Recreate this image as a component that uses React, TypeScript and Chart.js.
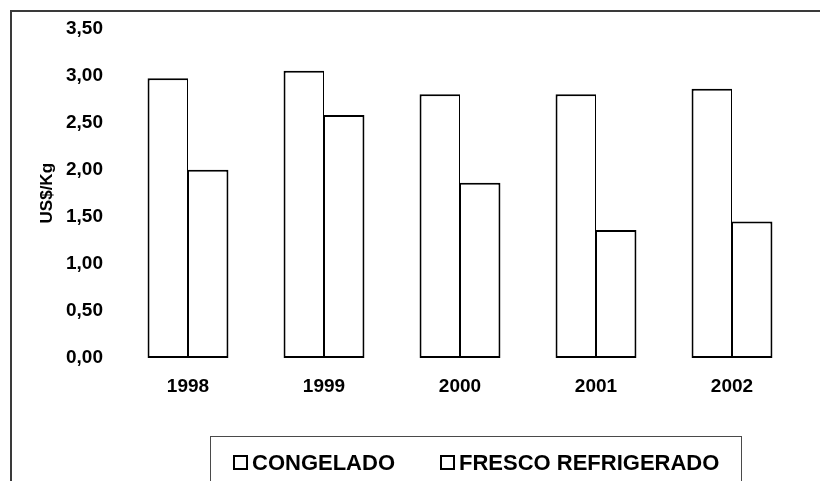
import React, { useEffect, useRef } from "react";
import { Chart, registerables } from "chart.js";

Chart.register(...registerables);

const categories = ["1998", "1999", "2000", "2001", "2002"];
const congelado = [2.97, 3.05, 2.8, 2.8, 2.86];
const frescoRefrigerado = [2.0, 2.58, 1.86, 1.36, 1.45];
const seriesNames = ["CONGELADO", "FRESCO REFRIGERADO"];
const yMin = 0;
const yMax = 3.5;
const yStep = 0.5;
const yAxisTitle = "US$/Kg";

const FONT = "'Liberation Sans', Arial, sans-serif";

const framePlugin = {
  id: "frame",
  beforeDraw(chart: any) {
    const ctx = chart.ctx;
    ctx.save();
    ctx.fillStyle = "#ffffff";
    ctx.fillRect(0, 0, chart.width, chart.height);
    ctx.strokeStyle = "#3a3a3a";
    ctx.lineWidth = 2;
    ctx.beginPath();
    ctx.moveTo(11, chart.height + 5);
    ctx.lineTo(11, 11);
    ctx.lineTo(chart.width + 5, 11);
    ctx.stroke();
    ctx.restore();
  },
  afterDraw(chart: any) {
    const ctx = chart.ctx;
    ctx.save();
    // legend box
    ctx.strokeStyle = "#4a4a4a";
    ctx.lineWidth = 1;
    ctx.strokeRect(210.5, 436.5, 531, 60);
    ctx.font = `bold 22px ${FONT}`;
    ctx.textBaseline = "alphabetic";
    ctx.textAlign = "left";
    const itemX = [233, 440];
    seriesNames.forEach((name, i) => {
      const x = itemX[i];
      ctx.fillStyle = "#ffffff";
      ctx.fillRect(x, 455, 14, 14);
      ctx.strokeStyle = "#000000";
      ctx.lineWidth = 2;
      ctx.strokeRect(x + 1, 456, 13, 13);
      ctx.fillStyle = "#000000";
      ctx.fillText(name, x + 19, 470);
    });
    ctx.restore();
  },
};

export default function App() {
  const ref = useRef<HTMLCanvasElement | null>(null);

  useEffect(() => {
    if (!ref.current) return;
    const chart = new Chart(ref.current, {
      type: "bar",
      data: {
        labels: categories,
        datasets: [
          {
            label: seriesNames[0],
            data: congelado,
            backgroundColor: "#ffffff",
            borderColor: "#000000",
            borderWidth: { top: 2, left: 2, right: 1, bottom: 2 },
            borderSkipped: false,
          },
          {
            label: seriesNames[1],
            data: frescoRefrigerado,
            backgroundColor: "#ffffff",
            borderColor: "#000000",
            borderWidth: { top: 2, left: 1, right: 2, bottom: 2 },
            borderSkipped: false,
          },
        ],
      },
      options: {
        responsive: false,
        animation: false,
        devicePixelRatio: 1,
        layout: { padding: { top: 27, right: 20, left: 0, bottom: 0 } },
        plugins: {
          legend: { display: false },
          tooltip: { enabled: false },
        },
        datasets: {
          bar: { categoryPercentage: 0.595, barPercentage: 1 },
        },
        scales: {
          x: {
            grid: { display: false, drawTicks: false },
            border: { display: false },
            ticks: {
              color: "#000000",
              padding: 17,
              font: { family: FONT, size: 19, weight: "bold" },
            },
            afterFit(scale: any) {
              scale.height = 123;
            },
          },
          y: {
            min: yMin,
            max: yMax,
            grid: { display: false, drawTicks: false },
            border: { display: false },
            ticks: {
              stepSize: yStep,
              color: "#000000",
              padding: 17,
              font: { family: FONT, size: 19, weight: "bold" },
              callback: (v: any) => Number(v).toFixed(2).replace(".", ","),
            },
            title: {
              display: true,
              text: yAxisTitle,
              color: "#000000",
              font: { family: FONT, size: 17, weight: "bold" },
              padding: { top: 37, bottom: 0 },
            },
            afterFit(scale: any) {
              scale.width = 120;
            },
          },
        },
      },
      plugins: [framePlugin],
    });
    return () => chart.destroy();
  }, []);

  return (
    <div style={{ position: "absolute", left: 0, top: 0, width: 820, height: 481 }}>
      <canvas ref={ref} width={820} height={481} style={{ display: "block", width: 820, height: 481 }} />
    </div>
  );
}
